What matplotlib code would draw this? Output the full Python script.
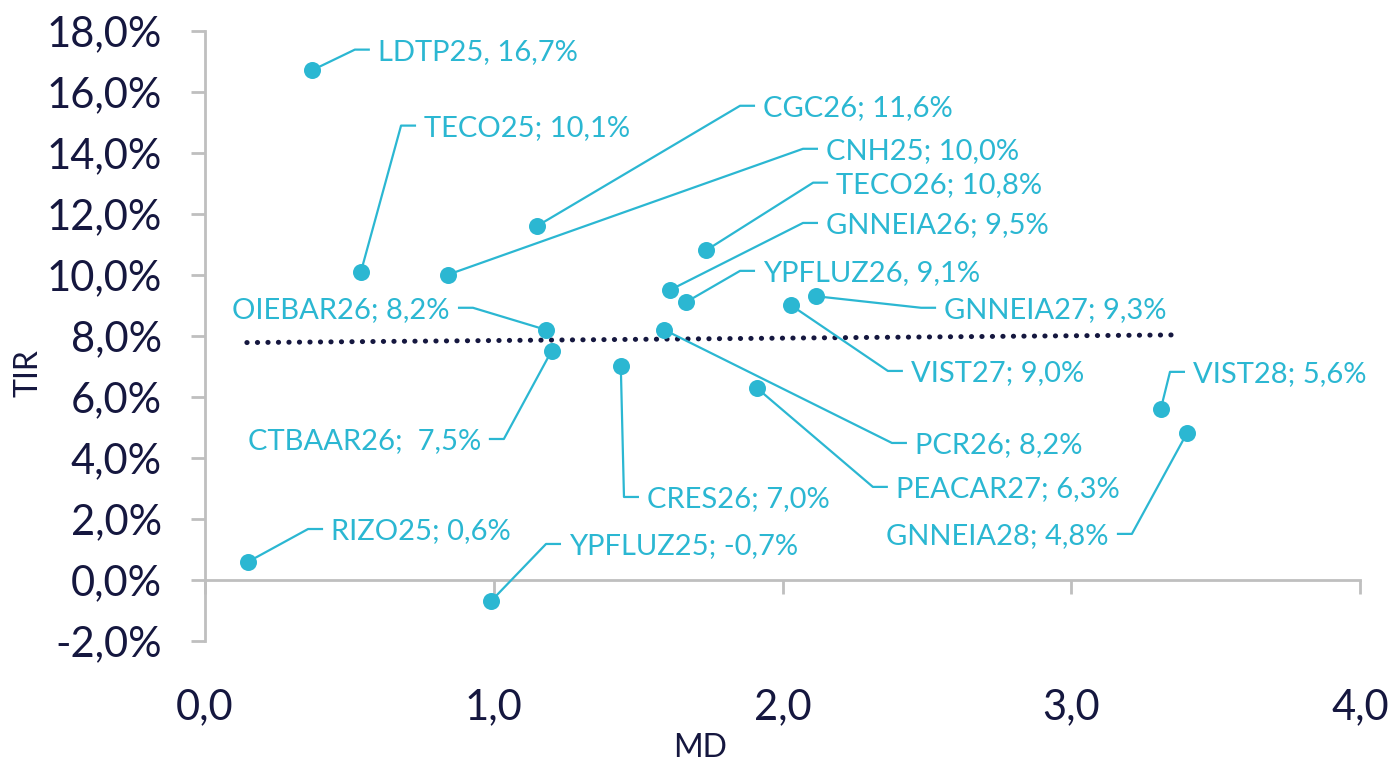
import numpy as np
import matplotlib
matplotlib.use("Agg")
import matplotlib.pyplot as plt

# ---------------- data ----------------
names = ["LDTP25", "TECO25", "CNH25", "CGC26", "TECO26", "GNNEIA26", "YPFLUZ26",
         "GNNEIA27", "VIST27", "VIST28", "OIEBAR26", "CTBAAR26", "CRES26", "PCR26",
         "PEACAR27", "GNNEIA28", "RIZO25", "YPFLUZ25"]
md = [0.37, 0.54, 0.84, 1.15, 1.735, 1.61, 1.665, 2.115, 2.03, 3.31, 1.18, 1.20,
      1.44, 1.59, 1.91, 3.40, 0.15, 0.99]
tir = [16.7, 10.1, 10.0, 11.6, 10.8, 9.5, 9.1, 9.3, 9.0, 5.6, 8.2, 7.5, 7.0, 8.2,
       6.3, 4.8, 0.6, -0.7]
label_texts = ["LDTP25, 16,7%", "TECO25; 10,1%", "CNH25; 10,0%", "CGC26; 11,6%",
               "TECO26; 10,8%", "GNNEIA26; 9,5%", "YPFLUZ26, 9,1%", "GNNEIA27; 9,3%",
               "VIST27; 9,0%", "VIST28; 5,6%", "OIEBAR26; 8,2%", "CTBAAR26;  7,5%",
               "CRES26; 7,0%", "PCR26; 8,2%", "PEACAR27; 6,3%", "GNNEIA28; 4,8%",
               "RIZO25; 0,6%", "YPFLUZ25; -0,7%"]
# trend line as drawn in the reference (start / end)
trend_md = [0.145, 3.35]
trend_tir = [7.78, 8.03]
x_ticks = [0, 1, 2, 3, 4]
y_ticks = [-2, 0, 2, 4, 6, 8, 10, 12, 14, 16, 18]

# ---------------- label layout (elbow of leader line, data coords; side of text) ----------------
elbow_x = [0.519, 0.679, 2.071, 1.853, 2.106, 2.071, 1.853, 2.480, 2.365, 3.342,
           0.928, 1.035, 1.451, 2.379, 2.313, 3.210, 0.357, 1.181]
elbow_y = [17.38, 14.89, 14.13, 15.54, 13.02, 11.70, 10.13, 8.92, 6.85, 6.82,
           8.92, 4.62, 2.72, 4.49, 3.05, 1.51, 1.67, 1.18]
side = ["r", "r", "r", "r", "r", "r", "r", "r", "r", "r",
        "l", "l", "r", "r", "r", "l", "r", "r"]

CYAN = "#2BB7D2"
NAVY = "#15173F"
GRAY = "#BFBFBF"

plt.rcParams['font.family'] = ['Lato', 'DejaVu Sans']

W, H = 1393, 764
fig = plt.figure(figsize=(W / 100, H / 100), dpi=100)
ax_l, ax_r, ax_t, ax_b = 205, 1360, 30.7, 641
ax = fig.add_axes([ax_l / W, 1 - ax_b / H, (ax_r - ax_l) / W, (ax_b - ax_t) / H])
ax.set_xlim(0, 4)
ax.set_ylim(-2, 18)

px_x = 4 / (ax_r - ax_l)  # data units per pixel (x)

# spines
for s in ["top", "right"]:
    ax.spines[s].set_visible(False)
ax.spines["left"].set_color(GRAY)
ax.spines["left"].set_linewidth(2)
ax.spines["bottom"].set_position(("data", 0))
ax.spines["bottom"].set_color(GRAY)
ax.spines["bottom"].set_linewidth(2)

ax.set_xticks(x_ticks)
ax.set_xticklabels([f"{v:.1f}".replace(".", ",") for v in x_ticks])
ax.set_yticks(y_ticks)
ax.set_yticklabels([f"{v:.1f}%".replace(".", ",") for v in y_ticks])
ax.tick_params(axis="x", direction="out", length=10, width=2, color=GRAY,
               labelsize=30, labelcolor=NAVY, pad=68)
ax.tick_params(axis="y", direction="out", length=10, width=2, color=GRAY,
               labelsize=30, labelcolor=NAVY, pad=21)

# trend line
ax.plot(trend_md, trend_tir, color=NAVY, linewidth=3.6,
        linestyle=(0, (0.05, 2.05)), dash_capstyle="round", zorder=2)

# leader lines and labels
hseg = 15 * px_x
gap = 8 * px_x
for i in range(len(md)):
    ex, ey = elbow_x[i], elbow_y[i]
    if side[i] == "r":
        ax.plot([md[i], ex, ex + hseg], [tir[i], ey, ey], color=CYAN, lw=1.6,
                zorder=3, solid_capstyle="butt")
        ax.text(ex + hseg + gap, ey, label_texts[i], color=CYAN, fontsize=21,
                ha="left", va="center_baseline")
    else:
        ax.plot([md[i], ex, ex - hseg], [tir[i], ey, ey], color=CYAN, lw=1.6,
                zorder=3, solid_capstyle="butt")
        ax.text(ex - hseg - gap, ey, label_texts[i], color=CYAN, fontsize=21,
                ha="right", va="center_baseline")

ax.scatter(md, tir, s=150, color=CYAN, zorder=4, linewidths=0)

fig.text(28 / W, 1 - 373 / H, "TIR", rotation=90, ha="center", va="center",
         fontsize=23, color=NAVY)
fig.text(700 / W, 1 - 748 / H, "MD", ha="center", va="center",
         fontsize=23, color=NAVY)

fig.savefig("out.png", dpi=100)
